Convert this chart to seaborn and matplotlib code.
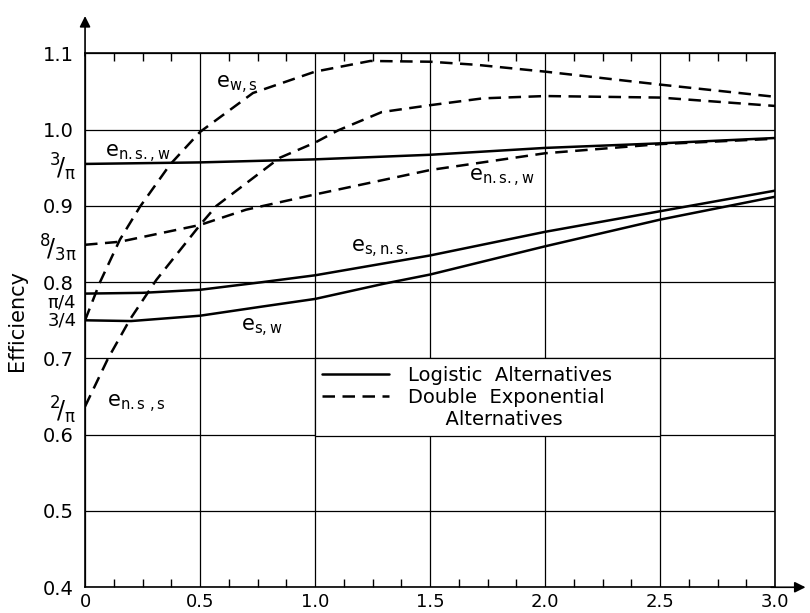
import numpy as np
import pandas as pd
import matplotlib
matplotlib.use("Agg")
import matplotlib.pyplot as plt
from matplotlib.lines import Line2D
import seaborn as sns

# curves (x = shift, y = efficiency)
x_nsw_log = [0, 0.5, 1.0, 1.5, 2.0, 2.5, 3.0]
y_nsw_log = [0.955, 0.957, 0.961, 0.967, 0.976, 0.982, 0.989]

x_sns_log = [0, 0.25, 0.5, 0.77, 1.0, 1.25, 1.5, 2.0, 2.5, 3.0]
y_sns_log = [0.785, 0.786, 0.790, 0.800, 0.809, 0.822, 0.835, 0.866, 0.893, 0.920]

x_sw_log = [0, 0.2, 0.5, 0.77, 1.0, 1.3, 1.5, 2.0, 2.5, 3.0]
y_sw_log = [0.750, 0.749, 0.756, 0.768, 0.778, 0.798, 0.810, 0.847, 0.882, 0.912]

x_ws_dexp = [0, 0.065, 0.152, 0.239, 0.369, 0.5, 0.73, 1.0, 1.24, 1.5, 1.7, 2.0, 2.5, 3.0]
y_ws_dexp = [0.750, 0.800, 0.856, 0.899, 0.954, 0.997, 1.048, 1.076, 1.090, 1.089, 1.085, 1.076, 1.059, 1.043]

x_nss_dexp = [0, 0.10, 0.195, 0.31, 0.5, 0.571, 0.846, 1.0, 1.1, 1.29, 1.5, 1.73, 2.0, 2.5, 3.0]
y_nss_dexp = [0.637, 0.700, 0.751, 0.803, 0.875, 0.900, 0.963, 0.983, 0.999, 1.023, 1.032, 1.041, 1.044, 1.042, 1.031]

x_nsw_dexp = [0, 0.152, 0.5, 0.70, 1.0, 1.5, 2.0, 2.5, 3.0]
y_nsw_dexp = [0.849, 0.853, 0.875, 0.895, 0.915, 0.947, 0.969, 0.981, 0.988]

special_ticks = [3 / np.pi, 8 / (3 * np.pi), np.pi / 4, 0.75, 2 / np.pi]
special_labels = [r"$^{3}\!/_{\pi}$", r"$^{8}\!/_{3\pi}$", r"$\pi/4$", "3/4", r"$^{2}\!/_{\pi}$"]

# curve labels: (text, x, baseline y)
curve_labels = [
    (r"$e_{w,s}$", 0.57, 1.054),
    (r"$e_{n.s.,w}$", 0.087, 0.963),
    (r"$e_{n.s.,w}$", 1.67, 0.932),
    (r"$e_{s,n.s.}$", 1.158, 0.839),
    (r"$e_{s,w}$", 0.68, 0.736),
    (r"$e_{n.s\ ,s}$", 0.095, 0.636),
]

frames = []
for name, fam, xs, ys in [
    ("nsw_log", "Logistic", x_nsw_log, y_nsw_log),
    ("sns_log", "Logistic", x_sns_log, y_sns_log),
    ("sw_log", "Logistic", x_sw_log, y_sw_log),
    ("ws_dexp", "Double", x_ws_dexp, y_ws_dexp),
    ("nss_dexp", "Double", x_nss_dexp, y_nss_dexp),
    ("nsw_dexp", "Double", x_nsw_dexp, y_nsw_dexp),
]:
    frames.append(pd.DataFrame({"x": xs, "eff": ys, "curve": name, "family": fam}))
df = pd.concat(frames, ignore_index=True)

sns.set_style("white")
plt.rcParams["font.family"] = ["DejaVu Sans"]
plt.rcParams["mathtext.default"] = "regular"
plt.rcParams["text.color"] = "black"
plt.rcParams["axes.labelcolor"] = "black"
plt.rcParams["xtick.color"] = "black"
plt.rcParams["ytick.color"] = "black"

fig = plt.figure(figsize=(8.1, 6.13), dpi=100)
ax = fig.add_axes([0.105, 0.042, 0.852, 0.871])

sns.lineplot(data=df, x="x", y="eff", units="curve", estimator=None,
             style="family", dashes={"Logistic": "", "Double": (5, 3)},
             color="black", linewidth=1.8, legend=False, ax=ax)

ax.set_xlim(0, 3.0)
ax.set_ylim(0.4, 1.1)

ax.set_xticks(np.arange(0, 3.01, 0.5), labels=["0", "0.5", "1.0", "1.5", "2.0", "2.5", "3.0"])
ax.set_xticks([v for v in np.arange(0, 3.01, 0.125) if v % 0.5 != 0], minor=True)
ax.set_yticks(np.arange(0.4, 1.101, 0.1), labels=["0.4", "0.5", "0.6", "0.7", "0.8", "0.9", "1.0", "1.1"])
ax.set_yticks(special_ticks, labels=special_labels, minor=True)

ax.tick_params(axis="both", which="major", length=0, labelsize=14, labelcolor="black")
ax.tick_params(axis="x", which="major", labelsize=13, pad=4)
ax.tick_params(axis="y", which="major", pad=8)
ax.tick_params(axis="x", which="minor", direction="in", length=6, width=1,
               top=True, bottom=True, color="black")
ax.tick_params(axis="y", which="minor", length=0, labelsize=17, pad=6, labelcolor="black")

# squeeze the crowded fraction labels like the original
for lab in ax.get_yticklabels(minor=True):
    t = lab.get_text()
    if t == "3/4":
        lab.set_fontsize(13)
        lab.set_verticalalignment("center")
    elif t == r"$\pi/4$":
        lab.set_fontsize(13)
        lab.set_verticalalignment("top")

ax.grid(True, which="major", color="black", linewidth=0.9)
ax.grid(False, which="minor")
for s in ax.spines.values():
    s.set_color("black")
    s.set_linewidth(1.2)

ax.set_xlabel("")
ax.set_ylabel("Efficiency", fontsize=15, color="black")
ax.yaxis.set_label_coords(-0.084, 0.5)

for txt, lx, ly in curve_labels:
    ax.text(lx, ly, txt, fontsize=15, ha="left", va="baseline", color="black")

# axis arrows
ax.annotate("", xy=(0, 1.075), xytext=(0, 0.99), xycoords="axes fraction",
            arrowprops=dict(arrowstyle="-|>", color="black", lw=1.2, mutation_scale=16),
            annotation_clip=False)
ax.annotate("", xy=(1.048, 0), xytext=(0.99, 0), xycoords="axes fraction",
            arrowprops=dict(arrowstyle="-|>", color="black", lw=1.2, mutation_scale=16),
            annotation_clip=False)

handles = [
    Line2D([], [], color="black", lw=1.8),
    Line2D([], [], color="black", lw=1.8, dashes=(5, 3)),
    Line2D([], [], color="none"),
]
labels = ["Logistic  Alternatives", "Double  Exponential", "      Alternatives"]
leg = ax.legend(handles, labels, loc="upper left", bbox_to_anchor=(1.0, 0.6, 1.5, 0.1),
                bbox_transform=ax.transData, mode="expand", borderaxespad=0,
                frameon=True, fancybox=False, edgecolor="black", facecolor="white",
                framealpha=1, fontsize=14, handlelength=3.4, handletextpad=1.0,
                borderpad=0.38, labelspacing=0.15)
leg.get_frame().set_linewidth(0.9)
for t in leg.get_texts():
    t.set_color("black")

fig.savefig("out.png", dpi=100)
